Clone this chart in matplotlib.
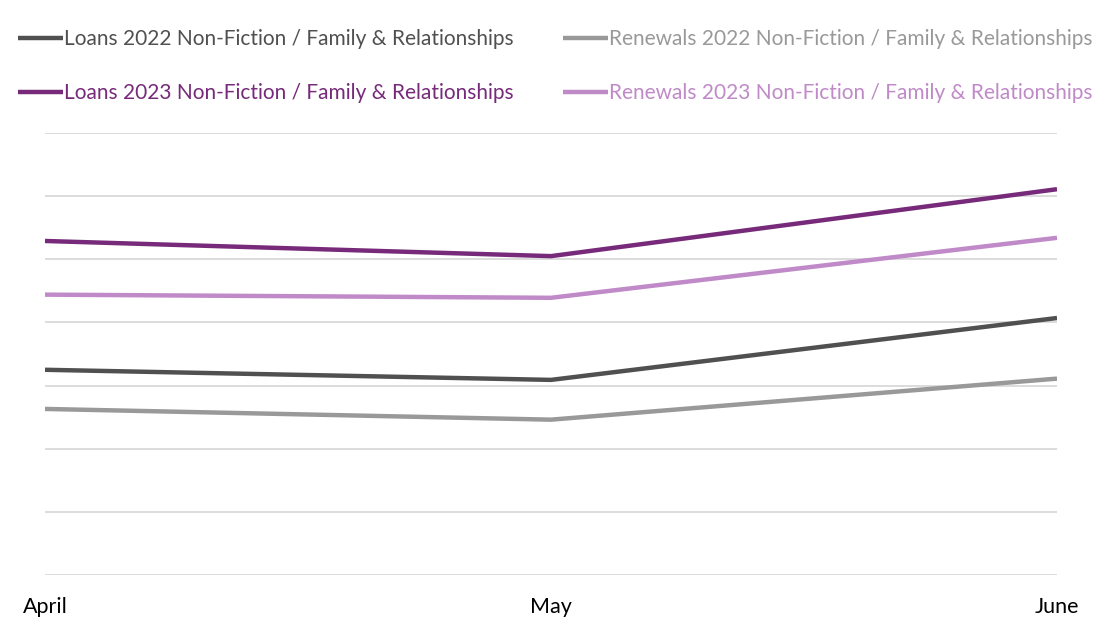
import matplotlib.pyplot as plt

plt.rcParams['font.family'] = ['Lato', 'DejaVu Sans']

months = ["April", "May", "June"]
loans_2022 = [3.25, 3.09, 4.07]
renewals_2022 = [2.63, 2.46, 3.11]
loans_2023 = [5.29, 5.05, 6.11]
renewals_2023 = [4.44, 4.39, 5.34]

series = [
    ("Loans 2022 Non-Fiction / Family & Relationships", loans_2022, "#505050"),
    ("Loans 2023 Non-Fiction / Family & Relationships", loans_2023, "#772A7A"),
    ("Renewals 2022 Non-Fiction / Family & Relationships", renewals_2022, "#999999"),
    ("Renewals 2023 Non-Fiction / Family & Relationships", renewals_2023, "#C08AC8"),
]

fig = plt.figure(figsize=(11.01, 6.32), dpi=100)
ax = fig.add_axes([45 / 1101, 57 / 632, 1012 / 1101, 442 / 632])

x = list(range(len(months)))
for label, vals, color in series:
    ax.plot(x, vals, color=color, linewidth=3.2, label=label, solid_capstyle="butt", zorder=3)

ax.set_xlim(0, 2)
ax.set_ylim(0, 7)
ax.set_yticks(range(0, 8))
ax.set_yticklabels([])
ax.set_xticks(x)
ax.set_xticklabels(months, fontsize=15.5)
ax.tick_params(axis="both", length=0)
ax.tick_params(axis="x", pad=16)
ax.grid(axis="y", color="#D9D9D9", linewidth=1.3)
for s in ax.spines.values():
    s.set_visible(False)

fig.legend(loc="upper left", bbox_to_anchor=(18 / 1101, 1 - 29 / 632), ncol=2,
           frameon=False, fontsize=15.0, handlelength=2.15, handletextpad=0.05,
           labelspacing=1.63, columnspacing=2.4, labelcolor="linecolor",
           borderaxespad=0, borderpad=0)

fig.savefig("out.png", dpi=100)
